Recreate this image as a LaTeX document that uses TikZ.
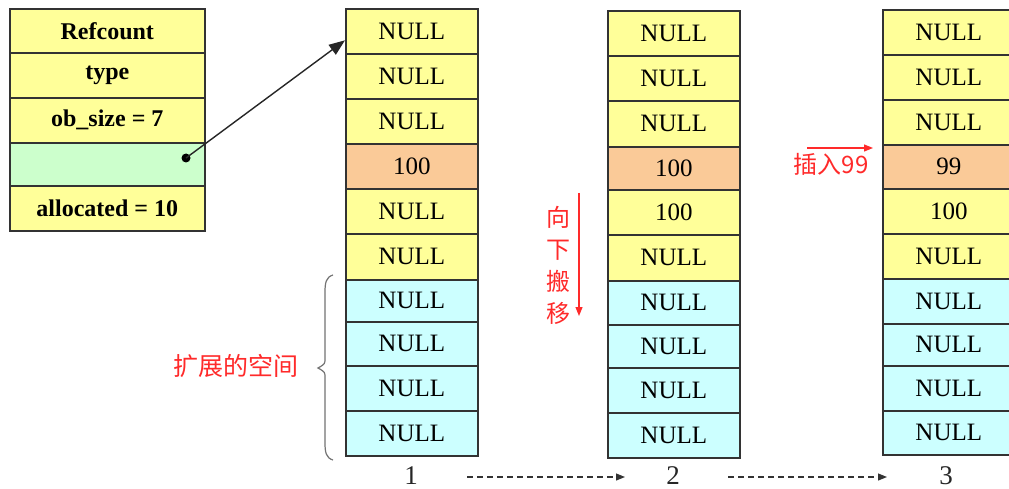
\documentclass[tikz,border=0pt]{standalone}
\usepackage{fontspec}
\setmainfont{Liberation Serif}
\newfontfamily\cjk{Noto Sans CJK SC}
\usetikzlibrary{arrows.meta,calc}

\definecolor{cellyellow}{HTML}{FFFF99}
\definecolor{cellorange}{HTML}{FACA98}
\definecolor{cellcyan}{HTML}{CCFFFF}
\definecolor{cellgreen}{HTML}{CCFFCC}
\definecolor{cellline}{HTML}{333333}
\definecolor{notered}{HTML}{FF2A2A}

\tikzset{
  memcell/.style={draw=cellline, line width=1.6pt, minimum width=132pt, inner sep=0pt,
    anchor=north west, text=black, font=\fontsize{25}{28}\selectfont},
  fieldcell/.style={memcell, minimum width=195pt, font=\fontsize{24}{28}\selectfont\bfseries},
  caption/.style={inner sep=0pt, text=black!85, font=\fontsize{27}{30}\selectfont},
  note/.style={inner sep=0pt, text=notered, font=\cjk\fontsize{24}{32}\selectfont},
  notearrow/.style={draw=notered, line width=1.1pt, -{Triangle[length=9pt,width=7pt]}},
  flowarrow/.style={draw=black!80, line width=1.1pt, dash pattern=on 6pt off 4pt,
    -{Triangle[length=9pt,width=7pt]}},
  ptrarrow/.style={draw=black!85, line width=1.4pt, -{Triangle[length=16pt,width=12pt]}},
  ptrdot/.style={circle, fill=black, inner sep=0pt, minimum size=9pt},
  bracestyle/.style={draw=black!55, line width=1.2pt},
}

% #1 name, #2 left x, #3 top y, #4 bottom y, #5 fill, #6 text
\newcommand\memcell[6]{\node[memcell, fill=#5, minimum height={#4-#3}] (#1) at (#2,#3) {#6};}
\newcommand\fieldcell[6]{\node[fieldcell, fill=#5, minimum height={#4-#3}] (#1) at (#2,#3) {#6};}

\begin{document}
\begin{tikzpicture}[x=1pt, y=-1pt]
\clip (0,0) rectangle (1009,489);
\fill[white] (0,0) rectangle (1009,489);

% list object header
\fieldcell{f1}{9}{8}{52}{cellyellow}{Refcount}
\fieldcell{f2}{9}{52}{97}{cellyellow}{type}
\fieldcell{f3}{9}{97}{142}{cellyellow}{ob\_size = 7}
\fieldcell{f4}{9}{142}{185}{cellgreen}{}
\fieldcell{f5}{9}{185}{230}{cellyellow}{allocated = 10}

% item array, stage 1
\memcell{a1}{345}{8}{53}{cellyellow}{NULL}
\memcell{a2}{345}{53}{98}{cellyellow}{NULL}
\memcell{a3}{345}{98}{143}{cellyellow}{NULL}
\memcell{a4}{345}{143}{188}{cellorange}{100}
\memcell{a5}{345}{188}{233}{cellyellow}{NULL}
\memcell{a6}{345}{233}{279}{cellyellow}{NULL}
\memcell{a7}{345}{279}{321}{cellcyan}{NULL}
\memcell{a8}{345}{321}{365}{cellcyan}{NULL}
\memcell{a9}{345}{365}{410}{cellcyan}{NULL}
\memcell{a10}{345}{410}{455}{cellcyan}{NULL}

% item array, stage 2
\memcell{b1}{607}{10}{55}{cellyellow}{NULL}
\memcell{b2}{607}{55}{100}{cellyellow}{NULL}
\memcell{b3}{607}{100}{146}{cellyellow}{NULL}
\memcell{b4}{607}{146}{189}{cellorange}{100}
\memcell{b5}{607}{189}{234}{cellyellow}{100}
\memcell{b6}{607}{234}{280}{cellyellow}{NULL}
\memcell{b7}{607}{280}{324}{cellcyan}{NULL}
\memcell{b8}{607}{324}{367}{cellcyan}{NULL}
\memcell{b9}{607}{367}{412}{cellcyan}{NULL}
\memcell{b10}{607}{412}{457}{cellcyan}{NULL}

% item array, stage 3
\memcell{c1}{882}{9}{54}{cellyellow}{NULL}
\memcell{c2}{882}{54}{99}{cellyellow}{NULL}
\memcell{c3}{882}{99}{144}{cellyellow}{NULL}
\memcell{c4}{882}{144}{188}{cellorange}{99}
\memcell{c5}{882}{188}{233}{cellyellow}{100}
\memcell{c6}{882}{233}{278}{cellyellow}{NULL}
\memcell{c7}{882}{278}{323}{cellcyan}{NULL}
\memcell{c8}{882}{323}{365}{cellcyan}{NULL}
\memcell{c9}{882}{365}{410}{cellcyan}{NULL}
\memcell{c10}{882}{410}{454}{cellcyan}{NULL}

% ob_item pointer
\node[ptrdot] (ptr) at (186,158) {};
\draw[ptrarrow] (ptr.center) -- ($(a1.west)+(0,9)$);

% stage numbers and transitions
\node[caption] (n1) at (411,476) {1};
\node[caption] (n2) at (673,476) {2};
\node[caption] (n3) at (946,476) {3};
\draw[flowarrow] ($(n1)+(56,1)$) -- ($(n2)+(-48,1)$);
\draw[flowarrow] ($(n2)+(55,1)$) -- ($(n3)+(-59,1)$);

% extended space brace
\draw[bracestyle] (333,275) .. controls (326,277) and (325,283) .. (325,292)
  -- (325,358) .. controls (325,364) .. (318,368) .. controls (325,372) .. (325,378)
  -- (325,443) .. controls (325,452) and (326,458) .. (333,460);
\node[note, font=\cjk\fontsize{25}{28}\selectfont] (ext) at (236,366) {扩展的空间};

% shift down
\node[note, align=center] (mv) at (558,265) {向\\下\\搬\\移};
\coordinate (mvA) at (579,193);
\coordinate (mvB) at (579,316);
\draw[notearrow] (mvA) -- (mvB);

% insert 99
\node[note] (ins) at (831,164) {插入99};
\coordinate (insA) at (807,148);
\draw[notearrow] (insA) -- ($(c4.north west)+(-9,4)$);
\end{tikzpicture}
\end{document}
